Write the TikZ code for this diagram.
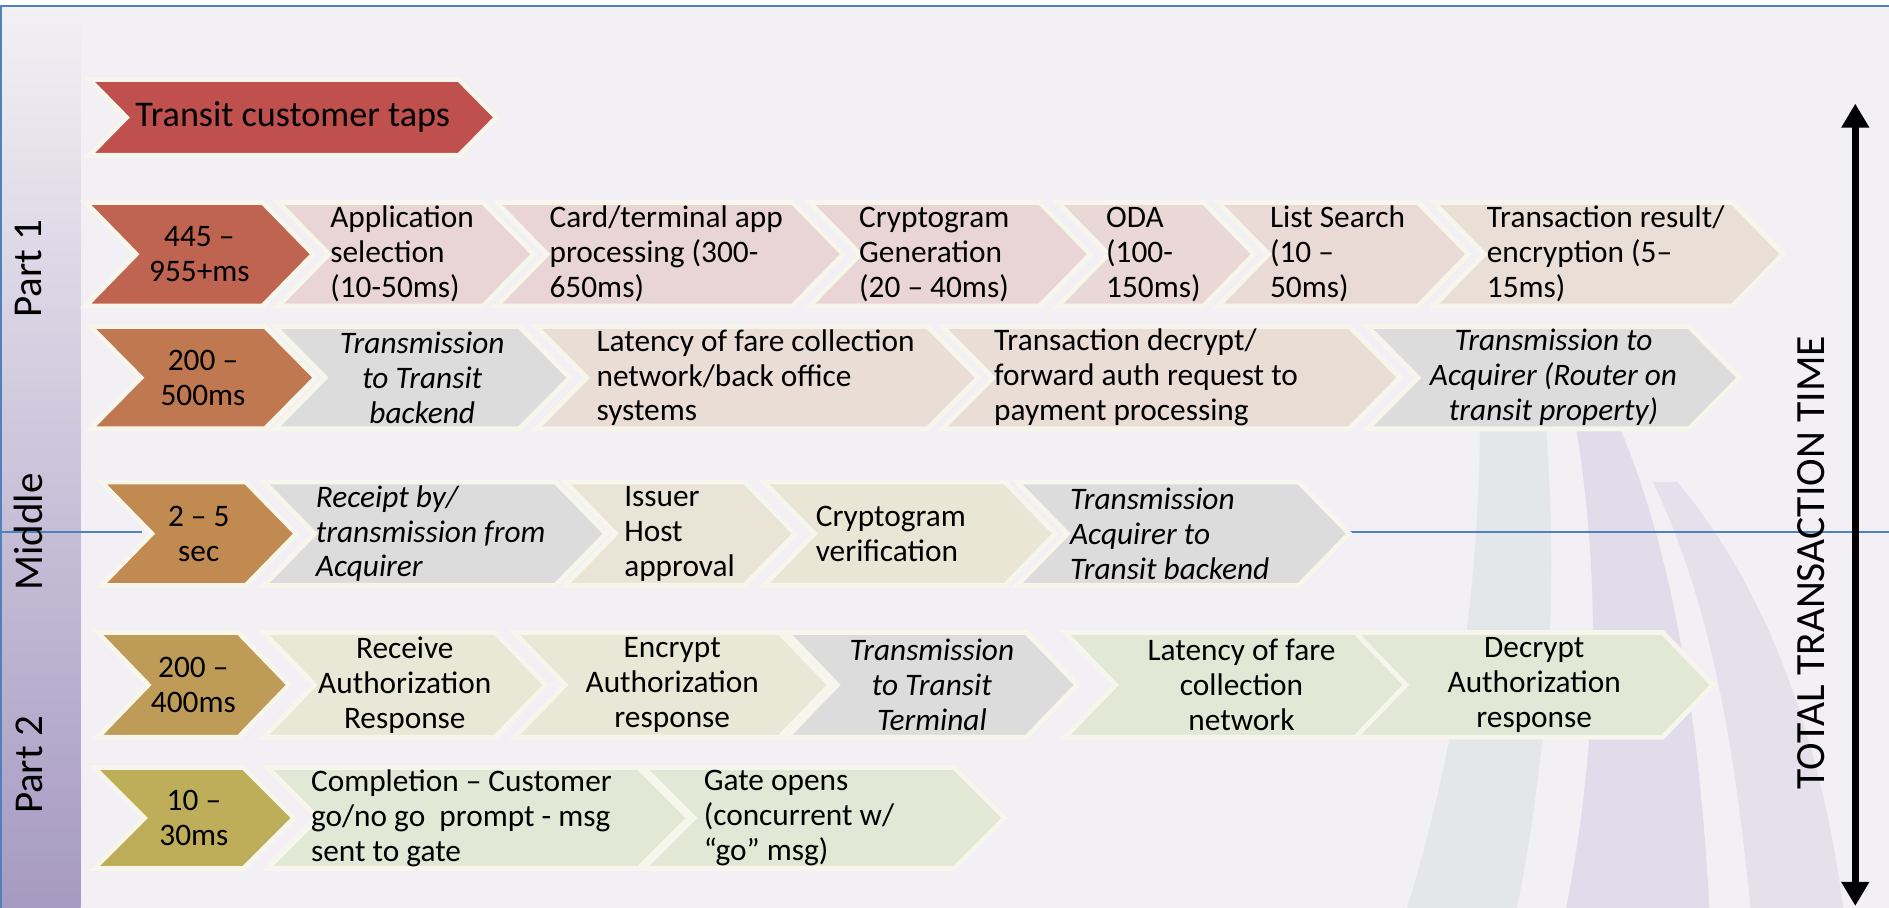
\documentclass[tikz,border=0pt]{standalone}
\usepackage{fontspec}
\setmainfont{Carlito}
\usetikzlibrary{arrows.meta}

\definecolor{bgcol}{RGB}{242,240,244}
\definecolor{bluel}{RGB}{79,129,189}
\definecolor{edgecol}{RGB}{246,246,236}
\definecolor{tapred}{RGB}{192,80,77}
\definecolor{leadA}{RGB}{190,100,80}
\definecolor{leadB}{RGB}{192,120,80}
\definecolor{leadC}{RGB}{192,138,80}
\definecolor{leadD}{RGB}{190,156,88}
\definecolor{leadE}{RGB}{190,174,90}
\definecolor{pinkc}{RGB}{233,213,213}
\definecolor{pinkb}{RGB}{234,223,214}
\definecolor{beige}{RGB}{233,221,213}
\definecolor{grayc}{RGB}{220,220,220}
\definecolor{sand}{RGB}{234,228,214}
\definecolor{olive}{RGB}{232,232,214}
\definecolor{sage}{RGB}{227,231,214}
\definecolor{bandA}{RGB}{227,231,234}
\definecolor{bandB}{RGB}{224,220,234}
\definecolor{bandC}{RGB}{228,225,237}

\tikzset{
  chevline/.style={draw=edgecol, line width=4pt, line join=miter},
  chevtext/.style={font=\fontsize{26}{29}\selectfont, align=center, inner sep=0pt},
  itl/.style={font=\fontsize{26}{29}\selectfont\itshape},
  bigtext/.style={font=\fontsize{30}{36}\selectfont},
  lft/.style={anchor=west, align=left, at={(#1,\rowmid)}},
  sidelabel/.style={rotate=90, inner sep=0pt, font=\fontsize{34}{40}\selectfont},
}

% chevron: name, left corner, tip, fill, text options, text
\newcommand{\chev}[6]{%
  \filldraw[chevline, fill=#4] (#2,\rowtop) -- (#3-\dep,\rowtop) -- (#3,\rowmid) -- (#3-\dep,\rowbot) -- (#2,\rowbot) -- (#2+\dep,\rowmid) -- cycle;
  \node[chevtext, at={({(#2+#3)/2},\rowmid)}, #5] (#1) {#6};
}

\begin{document}
\begin{tikzpicture}[x=1pt, y=-1pt]
\useasboundingbox (0,0) rectangle (1568,753.7);
\fill[white] (0,0) rectangle (1568,753.7);
\fill[bgcol] (0,5) rectangle (1568,753.7);

% background swooshes
\fill[bandA] (1228,300) .. controls (1232,450) and (1215,600) .. (1168,754) -- (1259,754) .. controls (1290,600) and (1295,450) .. (1278,300) -- cycle;
\fill[bandB] (1298,300) .. controls (1330,450) and (1330,600) .. (1300,754) -- (1419,754) .. controls (1410,600) and (1390,430) .. (1318,300) -- cycle;
\fill[bandC] (1372,400) .. controls (1420,500) and (1440,620) .. (1453,754) -- (1530,754) .. controls (1510,600) and (1460,480) .. (1392,400) -- cycle;

% left band
\shade[top color=bgcol, bottom color={rgb,255:red,166;green,154;blue,194}] (0,5) rectangle (67,753.7);

% frame lines
\draw[bluel, line width=1.2pt] (0,5) -- (1568,5);
\draw[bluel, line width=1.2pt] (1,5) -- (1,753.7);
\draw[bluel, line width=1.2pt] (0,441.5) -- (118,441.5);
\draw[bluel, line width=1.2pt] (1120,441.5) -- (1568,441.5);

\node[sidelabel] (part1) at (24,223) {Part 1};
\node[sidelabel] (middle) at (24,441.5) {Middle};
\node[sidelabel] (part2) at (24,635) {Part 2};

% row 0
\def\rowtop{66}\def\rowbot{129}\def\rowmid{97.5}\def\dep{31}
\chev{taps}{74}{412}{tapred}{bigtext}{Transit customer taps}

% row 1
\def\rowtop{168}\def\rowbot{254}\def\rowmid{211}\def\dep{42}
\chev{leadone}{71}{260}{leadA}{}{445 –\\955+ms}
\chev{appsel}{231}{443}{pinkc}{lft=274}{Application\\selection\\(10-50ms)}
\chev{cardapp}{412}{700}{pinkc}{lft=456}{Card/terminal app\\processing (300-\\650ms)}
\chev{cryptgen}{672}{905}{pinkc}{lft=713}{Cryptogram\\Generation\\(20 – 40ms)}
\chev{oda}{878}{1041}{pinkc!70!pinkb}{lft=918}{ODA\\(100-\\150ms)}
\chev{listsrch}{1011}{1219}{pinkc!50!pinkb}{lft=1054}{List Search\\(10 –\\50ms)}
\chev{txresult}{1190}{1480}{pinkb}{lft=1234}{Transaction result/\\encryption (5–\\15ms)}

% row 2
\def\rowtop{271}\def\rowbot{356}\def\rowmid{313.5}
\chev{leadtwo}{75}{262}{leadB}{}{200 –\\500ms}
\chev{txbackend}{228}{473}{grayc}{itl}{Transmission\\to Transit\\backend}
\chev{latencyone}{445}{812}{beige}{lft=495}{Latency of fare collection\\network/back office\\systems}
\chev{txdecrypt}{782}{1162}{beige}{lft=825}{Transaction decrypt/\\forward auth request to\\payment processing}
\chev{txacq}{1135}{1444}{grayc}{itl}{Transmission to\\Acquirer (Router on\\transit property)}

% row 3
\def\rowtop{400}\def\rowbot{486}\def\rowmid{443}
\chev{leadthree}{84}{246}{leadC}{}{2 – 5\\sec}
\chev{receipt}{219}{503}{grayc}{itl, lft=262}{Receipt by/\\transmission from\\Acquirer}
\chev{issuer}{469}{660}{sand}{lft=518}{Issuer\\Host\\approval}
\chev{cverif}{634}{876}{sand!50!olive}{lft=677}{Cryptogram\\verification}
\chev{acqtx}{844}{1120}{grayc}{itl, lft=888}{Transmission\\Acquirer to\\Transit backend}

% row 4
\def\rowtop{525}\def\rowbot{612}\def\rowmid{568.5}
\chev{leadfour}{81}{240}{leadD}{}{200 –\\400ms}
\chev{recvauth}{219}{453}{olive}{}{Receive\\Authorization\\Response}
\chev{encauth}{427}{689}{olive}{}{Encrypt\\Authorization\\response}
\chev{txterm}{653}{894}{grayc}{itl}{Transmission\\to Transit\\Terminal}
\chev{latencytwo}{884}{1177}{sage}{}{Latency of fare\\collection\\network}
\chev{decauth}{1125}{1422}{sage}{}{Decrypt\\Authorization\\response}

% row 5
\def\rowtop{637}\def\rowbot{721}\def\rowmid{679}
\chev{leadfive}{78}{244}{leadE}{}{10 –\\30ms}
\chev{complete}{222}{572}{sage}{lft=258}{Completion – Customer\\go/no go\ \ prompt - msg\\sent to gate}
\chev{gate}{534}{834}{sage}{lft=584}{Gate opens\\(concurrent w/\\“go” msg)}

% total time
\node[sidelabel, font=\fontsize{34.5}{40}\selectfont] (total) at (1503,467) {TOTAL TRANSACTION TIME};
\coordinate (ttop) at (1540,86);
\coordinate (tbot) at (1540,752);
\draw[line width=6pt, {Triangle[width=22pt,length=20pt]}-{Triangle[width=22pt,length=20pt]}] (ttop) -- (tbot);
\end{tikzpicture}
\end{document}
